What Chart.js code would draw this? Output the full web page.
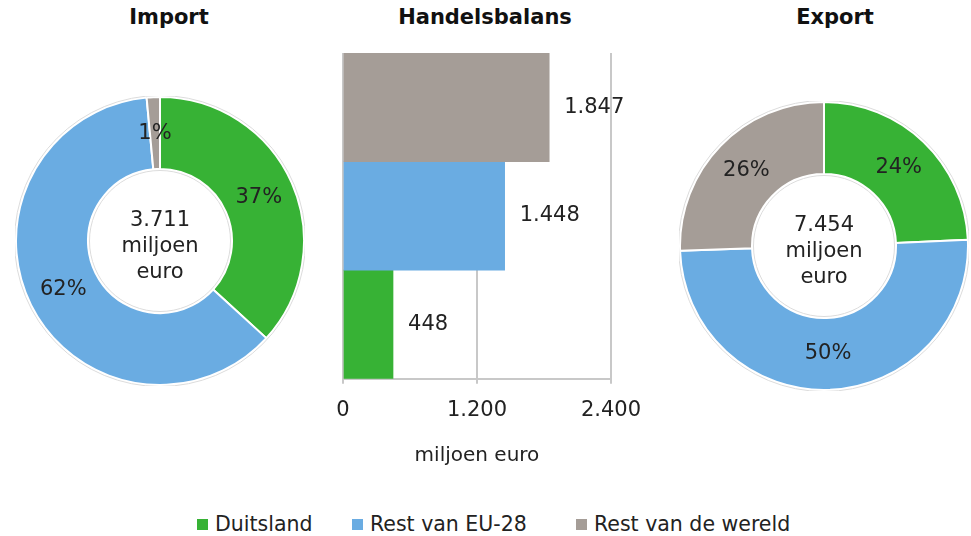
<!DOCTYPE html>
<html>
<head>
<meta charset="utf-8">
<script src="https://cdn.jsdelivr.net/npm/chart.js@4"></script>
<style>
  body { margin: 0; background: #fff; }
  #wrap { position: relative; width: 971px; height: 536px; font-family: "DejaVu Sans", Verdana, sans-serif; color: #222; }
  canvas { position: absolute; }
  .title { position: absolute; top: 0; width: 240px; line-height: 34px; text-align: center; font-weight: bold; font-size: 21px; color: #111; }
  .item { position: absolute; top: 512px; display: flex; align-items: center; font-size: 20.5px; line-height: 24px; }
  .box { width: 11px; height: 11px; margin-right: 7px; }
</style>
</head>
<body>
<div id="wrap">
  <div class="title" style="left:49px">Import</div>
  <div class="title" style="left:365px">Handelsbalans</div>
  <div class="title" style="left:715px">Export</div>
  <canvas id="importChart" width="290" height="290" style="left:15px; top:96px"></canvas>
  <canvas id="balansChart" width="335" height="432" style="left:320px; top:40px"></canvas>
  <canvas id="exportChart" width="290" height="290" style="left:679px; top:101px"></canvas>
</div>
<script>
// Data (miljoen euro)
const categories = ['Duitsland', 'Rest van EU-28', 'Rest van de wereld'];
const colors = ['#37b235', '#6aace2', '#a59d97'];
const importValues = [1365, 2291, 55];
const exportValues = [1813, 3739, 1902];
const balansValues = [448, 1448, 1847];
const balansTicks = [0, 1200, 2400];
const unitLabel = 'miljoen euro';

const FONT = '"DejaVu Sans", Verdana, sans-serif';

// 1234 -> "1.234"
function fmt(n) {
    return String(n).replace(/\B(?=(\d{3})+(?!\d))/g, '.');
}

// Percent labels, centre text and thin outline for the donuts
const donutLabels = {
    id: 'donutLabels',
    afterDatasetsDraw(chart) {
        const ctx = chart.ctx;
        const meta = chart.getDatasetMeta(0);
        const data = chart.data.datasets[0].data;
        const total = data.reduce((a, b) => a + b, 0);
        const first = meta.data[0];

        ctx.save();
        // faint outline
        ctx.strokeStyle = '#dcdcdc';
        ctx.lineWidth = 1;
        ctx.beginPath();
        ctx.arc(first.x, first.y, first.outerRadius + 1.5, 0, Math.PI * 2);
        ctx.stroke();
        ctx.beginPath();
        ctx.arc(first.x, first.y, first.innerRadius - 1.5, 0, Math.PI * 2);
        ctx.stroke();

        ctx.font = '21px ' + FONT;
        ctx.fillStyle = '#222';
        ctx.textAlign = 'center';
        ctx.textBaseline = 'middle';
        meta.data.forEach((arc, i) => {
            const p = arc.getCenterPoint();
            ctx.fillText(Math.round(data[i] / total * 100) + '%', p.x, p.y);
        });

        const lines = [fmt(total), 'miljoen', 'euro'];
        lines.forEach((t, i) => ctx.fillText(t, first.x, first.y - 20 + i * 26));
        ctx.restore();
    }
};

// Value labels right of the bars
const barLabels = {
    id: 'barLabels',
    afterDatasetsDraw(chart) {
        const ctx = chart.ctx;
        const meta = chart.getDatasetMeta(0);
        const data = chart.data.datasets[0].data;
        ctx.save();
        ctx.font = '21px ' + FONT;
        ctx.fillStyle = '#222';
        ctx.textAlign = 'left';
        ctx.textBaseline = 'middle';
        meta.data.forEach((bar, i) => {
            ctx.fillText(fmt(data[i]), bar.x + 15, bar.y);
        });
        ctx.restore();
    }
};

function makeDonut(id, values) {
    return new Chart(document.getElementById(id), {
        type: 'doughnut',
        data: {
            labels: categories,
            datasets: [{
                data: values,
                backgroundColor: colors,
                borderColor: '#fff',
                borderWidth: 2
            }]
        },
        options: {
            responsive: false,
            animation: false,
            cutout: '50%',
            plugins: {
                legend: { display: false },
                tooltip: { enabled: false }
            }
        },
        plugins: [donutLabels]
    });
}

makeDonut('importChart', importValues);
makeDonut('exportChart', exportValues);

// --- Horizontal bar chart: Handelsbalans ---
new Chart(document.getElementById('balansChart'), {
    type: 'bar',
    data: {
        labels: categories,
        datasets: [{
            data: balansValues,
            backgroundColor: colors,
            barPercentage: 1,
            categoryPercentage: 1
        }]
    },
    options: {
        indexAxis: 'y',
        responsive: false,
        animation: false,
        layout: { padding: { left: 23, right: 37, top: 13, bottom: 0 } },
        plugins: {
            legend: { display: false },
            tooltip: { enabled: false }
        },
        scales: {
            y: { display: false, reverse: true },
            x: {
                min: balansTicks[0],
                max: balansTicks[balansTicks.length - 1],
                afterBuildTicks: axis => { axis.ticks = balansTicks.map(v => ({ value: v })); },
                grid: { color: '#c8c8c8', lineWidth: 2, tickLength: 5 },
                border: { color: '#c8c8c8', width: 2 },
                ticks: {
                    padding: 14,
                    color: '#222',
                    font: { family: FONT, size: 21 },
                    callback: v => fmt(v)
                },
                title: {
                    display: true,
                    text: unitLabel,
                    color: '#222',
                    font: { family: FONT, size: 20 },
                    padding: { top: 7, bottom: 4 }
                }
            }
        }
    },
    plugins: [barLabels]
});

// Legend
const legendLeft = [197, 352, 576];
const wrap = document.getElementById('wrap');
categories.forEach((name, i) => {
    const item = document.createElement('div');
    item.className = 'item';
    item.style.left = legendLeft[i] + 'px';
    item.innerHTML = '<span class="box" style="background:' + colors[i] + '"></span>' + name;
    wrap.appendChild(item);
});
</script>
</body>
</html>
